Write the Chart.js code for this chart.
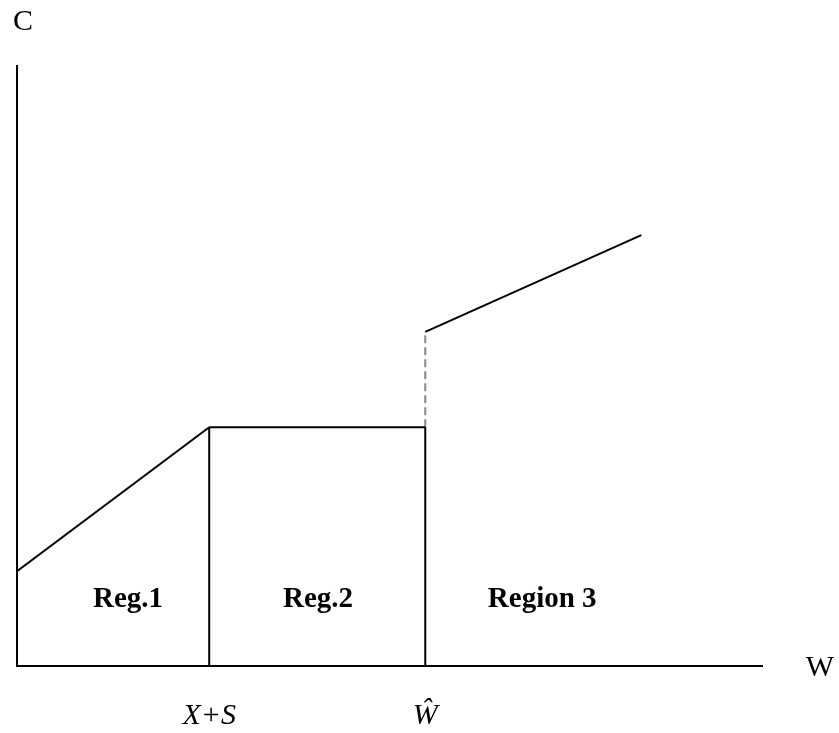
<!DOCTYPE html>
<html>
<head>
<meta charset="utf-8">
<script src="https://cdn.jsdelivr.net/npm/chart.js@4/dist/chart.umd.min.js"></script>
<style>
html,body{margin:0;padding:0;background:#fff;}
#wrap{width:839px;height:733px;position:relative;}
</style>
</head>
<body>
<div id="wrap"><canvas id="c" width="839" height="733"></canvas></div>
<script>
// Wealth axis positions (arbitrary units, 0..100)
const W_XS = 25.8;      // X+S
const W_HAT = 54.8;     // Ŵ
const W_END = 83.8;
// Consumption values (arbitrary units, 0..100)
const C_START = 15.8;
const C_FLAT = 39.8;
const C_JUMP = 55.7;
const C_END = 71.8;

const region1Line = [{x:0, y:C_START}, {x:W_XS, y:C_FLAT}];
const region2Line = [{x:W_XS, y:C_FLAT}, {x:W_HAT, y:C_FLAT}];
const divider1 = [{x:W_XS, y:0}, {x:W_XS, y:C_FLAT}];
const divider2 = [{x:W_HAT, y:0}, {x:W_HAT, y:C_FLAT}];
const jumpLine = [{x:W_HAT, y:C_FLAT}, {x:W_HAT, y:C_JUMP}];
const region3Line = [{x:W_HAT, y:C_JUMP}, {x:W_END, y:C_END}];

const regionLabels = ['Reg.1', 'Reg.2', 'Region 3'];
const regionLabelX = [14.9, 40.4, 70.5];
const regionLabelY = 11.0;
const tickLabels = ['X+S', 'Ŵ'];
const tickValues = [W_XS, W_HAT];
const axisTitleX = 'W';
const axisTitleY = 'C';

function seg(data, opts) {
  return Object.assign({
    data: data, borderColor: '#000', borderWidth: 2, pointRadius: 0,
    showLine: true, fill: false, tension: 0
  }, opts || {});
}

const textPlugin = {
  id: 'texts',
  afterDraw(chart) {
    const ctx = chart.ctx;
    const xs = chart.scales.x, ys = chart.scales.y;
    ctx.save();
    ctx.fillStyle = '#000';
    ctx.textAlign = 'center';
    ctx.textBaseline = 'middle';
    ctx.font = 'bold 29px "Liberation Serif", "Times New Roman", serif';
    regionLabels.forEach((t, i) => {
      ctx.fillText(t, xs.getPixelForValue(regionLabelX[i]), ys.getPixelForValue(regionLabelY));
    });
    ctx.font = 'italic 30px "Liberation Serif", "Times New Roman", serif';
    tickLabels.forEach((t, i) => {
      ctx.fillText(t, xs.getPixelForValue(tickValues[i]), chart.chartArea.bottom + 50);
    });
    ctx.font = '30px "Liberation Serif", "Times New Roman", serif';
    ctx.fillText(axisTitleX, chart.chartArea.right + 58, chart.chartArea.bottom + 2);
    ctx.fillText(axisTitleY, chart.chartArea.left + 6, chart.chartArea.top - 44);
    ctx.restore();
  }
};

new Chart(document.getElementById('c'), {
  type: 'scatter',
  data: {
    datasets: [
      seg(region1Line),
      seg(region2Line),
      seg(divider1),
      seg(divider2),
      seg(jumpLine, {borderColor: '#888', borderDash: [8, 4]}),
      seg(region3Line)
    ]
  },
  options: {
    responsive: false,
    animation: false,
    events: [],
    layout: {padding: {left: 17, top: 66, right: 77, bottom: 67}},
    plugins: {legend: {display: false}, tooltip: {enabled: false}, title: {display: false}},
    scales: {
      x: {
        type: 'linear', min: 0, max: 100,
        grid: {display: false, drawTicks: false},
        border: {display: true, color: '#000', width: 2},
        ticks: {display: false}
      },
      y: {
        type: 'linear', min: 0, max: 100,
        grid: {display: false, drawTicks: false},
        border: {display: true, color: '#000', width: 2},
        ticks: {display: false}
      }
    }
  },
  plugins: [textPlugin]
});
</script>
</body>
</html>
